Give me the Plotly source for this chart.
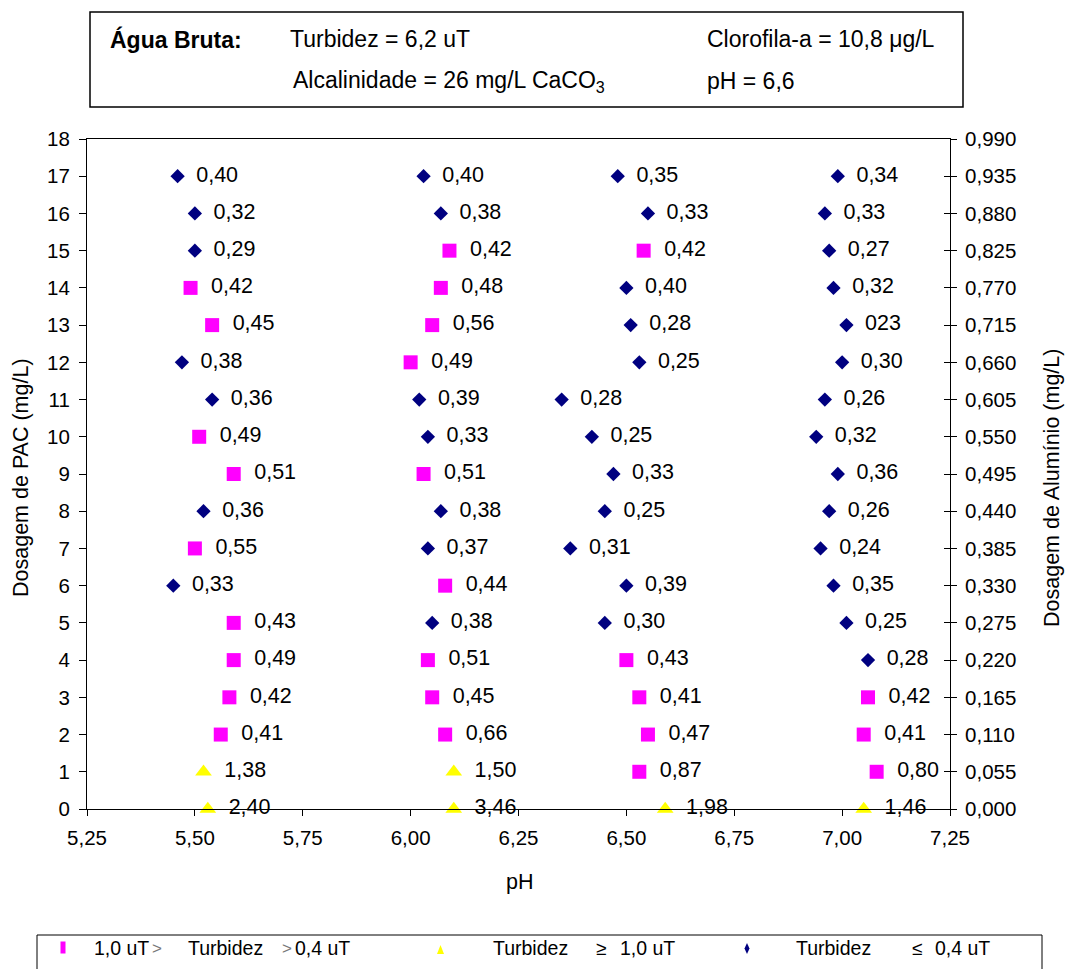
import numpy as np
import plotly.graph_objects as go

# ---------------- data ----------------
dosagem_pac = [17, 16, 15, 14, 13, 12, 11, 10, 9, 8, 7, 6, 5, 4, 3, 2, 1, 0]

ph_g1 = [5.46, 5.50, 5.50, 5.49, 5.54, 5.47, 5.54, 5.51, 5.59, 5.52, 5.50, 5.45, 5.59, 5.59, 5.58, 5.56, 5.52, 5.53]
turb_g1 = [0.40, 0.32, 0.29, 0.42, 0.45, 0.38, 0.36, 0.49, 0.51, 0.36, 0.55, 0.33, 0.43, 0.49, 0.42, 0.41, 1.38, 2.40]
label_g1 = ["0,40", "0,32", "0,29", "0,42", "0,45", "0,38", "0,36", "0,49", "0,51", "0,36", "0,55", "0,33", "0,43", "0,49", "0,42", "0,41", "1,38", "2,40"]

ph_g2 = [6.03, 6.07, 6.09, 6.07, 6.05, 6.00, 6.02, 6.04, 6.03, 6.07, 6.04, 6.08, 6.05, 6.04, 6.05, 6.08, 6.10, 6.10]
turb_g2 = [0.40, 0.38, 0.42, 0.48, 0.56, 0.49, 0.39, 0.33, 0.51, 0.38, 0.37, 0.44, 0.38, 0.51, 0.45, 0.66, 1.50, 3.46]
label_g2 = ["0,40", "0,38", "0,42", "0,48", "0,56", "0,49", "0,39", "0,33", "0,51", "0,38", "0,37", "0,44", "0,38", "0,51", "0,45", "0,66", "1,50", "3,46"]

ph_g3 = [6.48, 6.55, 6.54, 6.50, 6.51, 6.53, 6.35, 6.42, 6.47, 6.45, 6.37, 6.50, 6.45, 6.50, 6.53, 6.55, 6.53, 6.59]
turb_g3 = [0.35, 0.33, 0.42, 0.40, 0.28, 0.25, 0.28, 0.25, 0.33, 0.25, 0.31, 0.39, 0.30, 0.43, 0.41, 0.47, 0.87, 1.98]
label_g3 = ["0,35", "0,33", "0,42", "0,40", "0,28", "0,25", "0,28", "0,25", "0,33", "0,25", "0,31", "0,39", "0,30", "0,43", "0,41", "0,47", "0,87", "1,98"]

ph_g4 = [6.99, 6.96, 6.97, 6.98, 7.01, 7.00, 6.96, 6.94, 6.99, 6.97, 6.95, 6.98, 7.01, 7.06, 7.06, 7.05, 7.08, 7.05]
turb_g4 = [0.34, 0.33, 0.27, 0.32, 0.23, 0.30, 0.26, 0.32, 0.36, 0.26, 0.24, 0.35, 0.25, 0.28, 0.42, 0.41, 0.80, 1.46]
label_g4 = ["0,34", "0,33", "0,27", "0,32", "023", "0,30", "0,26", "0,32", "0,36", "0,26", "0,24", "0,35", "0,25", "0,28", "0,42", "0,41", "0,80", "1,46"]

# ---------------- combine & classify ----------------
ph_all = np.array(ph_g1 + ph_g2 + ph_g3 + ph_g4)
turb_all = np.array(turb_g1 + turb_g2 + turb_g3 + turb_g4)
label_all = np.array(label_g1 + label_g2 + label_g3 + label_g4)
dos_all = np.array(dosagem_pac * 4)

mask_low = turb_all <= 0.40
mask_high = turb_all >= 1.0
mask_mid = ~mask_low & ~mask_high

W, H = 1066, 969
L, R, T, B = 87, 950, 139, 809


def px(x):
    return (x - L) / (R - L)


def py(y):
    return (B - y) / (B - T)


FONT = "Arial, Liberation Sans, sans-serif"
GAP = "\u2002"

fig = go.Figure()


def add_series(mask, symbol, color, size):
    fig.add_trace(go.Scatter(
        x=ph_all[mask], y=dos_all[mask],
        mode="markers+text",
        text=[GAP + t for t in label_all[mask]],
        textposition="middle right",
        textfont=dict(family=FONT, size=21.5, color="black"),
        marker=dict(symbol=symbol, color=color, size=size, line=dict(width=0)),
        cliponaxis=False, showlegend=False, hoverinfo="x+y+text",
    ))


add_series(mask_mid, "square", "#FF00FF", 14)
add_series(mask_high, "triangle-up", "#FFFF00", 14.5)
add_series(mask_low, "diamond", "#000080", 11)

# invisible traces for the secondary axes
fig.add_trace(go.Scatter(x=[None], y=[None], yaxis="y2", mode="markers",
                         showlegend=False, hoverinfo="skip"))
fig.add_trace(go.Scatter(x=[None], y=[None], yaxis="y3", mode="markers",
                         showlegend=False, hoverinfo="skip"))

tickfont = dict(family=FONT, size=20.5, color="black")

fig.update_layout(
    width=W, height=H,
    margin=dict(l=L, r=W - R, t=T, b=H - B, pad=0),
    paper_bgcolor="white", plot_bgcolor="white",
    separators=",.",
    showlegend=False,
    xaxis=dict(range=[5.25, 7.25], dtick=0.25, tick0=5.25, tickformat=".2f",
               showline=True, linecolor="black", linewidth=1, mirror=True,
               ticks="outside", ticklen=6, tickcolor="black", ticklabelstandoff=4,
               showgrid=False, zeroline=False, tickfont=tickfont),
    yaxis=dict(range=[0, 18], dtick=1, tick0=0,
               showline=True, linecolor="black", linewidth=1,
               ticks="outside", ticklen=7, tickcolor="black", ticklabelstandoff=5,
               showgrid=False, zeroline=False, tickfont=tickfont),
    yaxis2=dict(range=[0, 0.99], dtick=0.055, tick0=0, tickformat=".3f",
                overlaying="y", side="right", anchor="x",
                showline=True, linecolor="black", linewidth=1,
                ticks="outside", ticklen=6, tickcolor="black", ticklabelstandoff=4,
                showgrid=False, zeroline=False, tickfont=tickfont),
    yaxis3=dict(range=[0, 0.99], dtick=0.055, tick0=0,
                overlaying="y", side="right", anchor="x",
                showline=False, ticks="inside", ticklen=6, tickcolor="black",
                showticklabels=False, showgrid=False, zeroline=False),
)

ann = []


def text(x, y, s, size=21.5, family=FONT, color="black", xanchor="left", angle=0, bold=False):
    if bold:
        s = "<b>" + s + "</b>"
    ann.append(dict(x=px(x), y=py(y), xref="paper", yref="paper", text=s, showarrow=False,
                    xanchor=xanchor, yanchor="middle", textangle=angle,
                    font=dict(family=family, size=size, color=color)))


# axis titles
text(519, 882, "pH", xanchor="center")
text(21, 478, "Dosagem de PAC (mg/L)", xanchor="center", angle=-90)
text(1052, 488, "Dosagem de Alumínio (mg/L)", xanchor="center", angle=-90)

# info box
text(108, 39, "Água Bruta:", size=23, bold=True)
text(288, 39, "Turbidez = 6,2 uT", size=23)
text(705, 39, "Clorofila-a = 10,8 μg/L", size=23)
text(291, 81, "Alcalinidade = 26 mg/L CaCO<sub>3</sub>", size=23)
text(705, 81, "pH = 6,6", size=23)

# custom legend texts
LEG_Y = 948
LS = 19.5
text(92, LEG_Y, "1,0 uT", size=LS)
text(150, LEG_Y, "&gt;", size=17, color="#777777")
text(186, LEG_Y, "Turbidez", size=LS)
text(280, LEG_Y, "&gt;", size=17, color="#777777")
text(293, LEG_Y, "0,4 uT", size=LS)
text(491, LEG_Y, "Turbidez", size=LS)
text(594, LEG_Y, "≥", size=19)
text(618, LEG_Y, "1,0 uT", size=LS)
text(794, LEG_Y, "Turbidez", size=LS)
text(910, LEG_Y, "≤", size=19)
text(933, LEG_Y, "0,4 uT", size=LS)

fig.update_layout(annotations=ann)

shapes = [
    # info box
    dict(type="rect", xref="paper", yref="paper", x0=px(90), x1=px(963), y0=py(107), y1=py(12),
         line=dict(color="black", width=1.5), fillcolor="rgba(0,0,0,0)"),
    # legend box
    dict(type="rect", xref="paper", yref="paper", x0=px(37), x1=px(1042), y0=py(985), y1=py(935),
         line=dict(color="black", width=1), fillcolor="rgba(0,0,0,0)"),
    # legend symbols
    dict(type="rect", xref="paper", yref="paper", x0=px(60.5), x1=px(65.5), y0=py(953.5), y1=py(941.5),
         line=dict(width=0), fillcolor="#FF00FF"),
]


def path(points, color):
    d = "M " + " L ".join(f"{px(x):.5f},{py(y):.5f}" for x, y in points) + " Z"
    return dict(type="path", xref="paper", yref="paper", path=d, line=dict(width=0), fillcolor=color)


shapes.append(path([(437, 954), (444, 954), (440.5, 945)], "#FFFF00"))
shapes.append(path([(747, 943), (749.5, 948.5), (747, 954), (744.5, 948.5)], "#000080"))

fig.update_layout(shapes=shapes)

fig.write_html("out.html")
